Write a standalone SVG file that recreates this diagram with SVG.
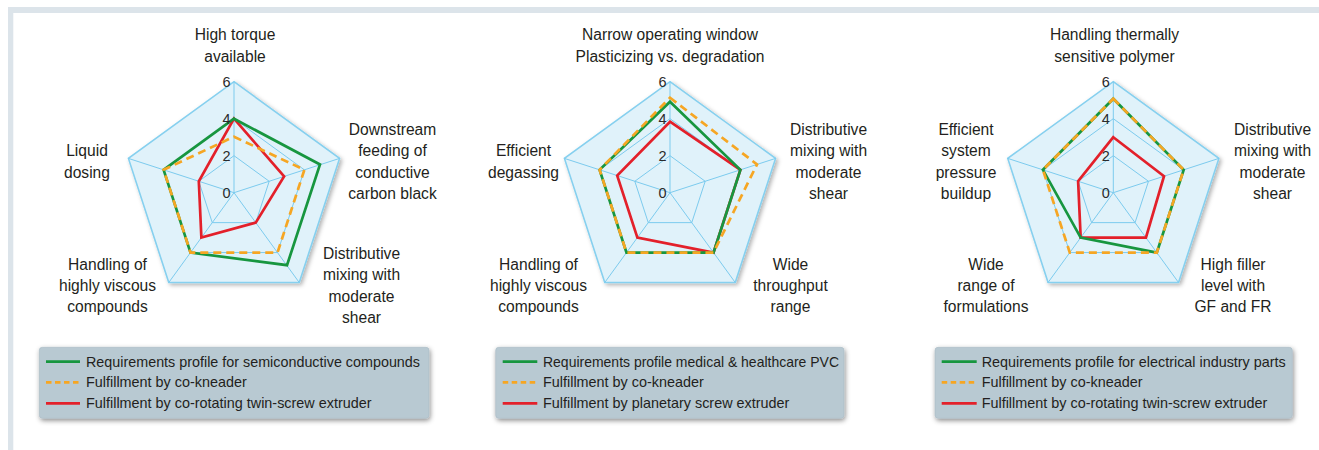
<svg xmlns="http://www.w3.org/2000/svg" width="1319" height="450" viewBox="0 0 1319 450">
<defs>
<style>
.bg{fill:#e0f2fa;stroke:#86d0ef;stroke-width:1.6;stroke-linejoin:miter}
.grid{fill:none;stroke:#7ccbee;stroke-width:1}
.g{fill:none;stroke:#17963f;stroke-width:2.7;stroke-linejoin:miter}
.o{fill:none;stroke:#f6a623;stroke-width:2.7;stroke-dasharray:8 5;stroke-linejoin:miter}
.r{fill:none;stroke:#e3202a;stroke-width:2.7;stroke-linejoin:miter}
.lbl{font-family:"Liberation Sans",Arial,sans-serif;font-size:15.6px;fill:#231f20;text-anchor:middle}
.num{font-family:"Liberation Sans",Arial,sans-serif;font-size:14.5px;fill:#2b2b2b;text-anchor:middle}
.leg{font-family:"Liberation Sans",Arial,sans-serif;font-size:14.4px;fill:#231f20}
.box{fill:#b8c9d2;stroke:#a9bac4;stroke-width:0.6}
</style>
<filter id="sh" x="-10%" y="-10%" width="125%" height="125%">
<feDropShadow dx="2" dy="2" stdDeviation="2" flood-color="#000" flood-opacity="0.3"/>
</filter>
<filter id="sh2" x="-10%" y="-20%" width="125%" height="150%">
<feDropShadow dx="1" dy="2" stdDeviation="2.5" flood-color="#000" flood-opacity="0.45"/>
</filter>
<g id="grid">
<polygon class="bg" points="0,-111 105.57,-34.3 65.24,89.8 -65.24,89.8 -105.57,-34.3" filter="url(#sh)"/>
<polygon class="grid" points="0,-74 70.38,-22.87 43.5,59.87 -43.5,59.87 -70.38,-22.87"/>
<polygon class="grid" points="0,-37 35.19,-11.43 21.75,29.93 -21.75,29.93 -35.19,-11.43"/>
<path class="grid" d="M0,0V-111M0,0L105.57,-34.3M0,0L65.24,89.8M0,0L-65.24,89.8M0,0L-105.57,-34.3"/>
</g>
<g id="nums">
<text class="num" x="-7.5" y="-106">6</text>
<text class="num" x="-7.5" y="-69">4</text>
<text class="num" x="-7.5" y="-32">2</text>
<text class="num" x="-7.5" y="5">0</text>
</g>
</defs>
<rect x="0" y="0" width="1319" height="450" fill="#ffffff"/>
<g id="frame">
<rect x="8" y="7" width="1311" height="6" fill="#dce4ea"/>
<rect x="8" y="7" width="5.3" height="443" fill="#dce4ea"/>
</g>

<g id="chart1">
<g transform="translate(234,192.7)">
<use href="#grid"/>
<g id="chart1-series">
<polygon class="r" points="0,-74 50.1,-16.3 21.75,29.93 -32.62,44.9 -35.19,-11.43"/>
<polygon class="g" points="0,-74 86,-28.2 53,72.5 -43.5,59.87 -70.38,-22.87"/>
<polygon class="o" points="0,-56 70.38,-22.87 43.5,59.87 -43.5,59.87 -70.38,-22.87"/>
</g>
<use href="#nums"/>
</g>
<text class="lbl" x="235" y="40">High torque</text>
<text class="lbl" x="235" y="61.5">available</text>
<text class="lbl" x="392.5" y="135">Downstream</text>
<text class="lbl" x="392.5" y="156">feeding of</text>
<text class="lbl" x="392.5" y="177.5">conductive</text>
<text class="lbl" x="392.5" y="199">carbon black</text>
<text class="lbl" x="361.5" y="259">Distributive</text>
<text class="lbl" x="361.5" y="280">mixing with</text>
<text class="lbl" x="361.5" y="301.5">moderate</text>
<text class="lbl" x="361.5" y="323">shear</text>
<text class="lbl" x="107.5" y="270">Handling of</text>
<text class="lbl" x="107.5" y="291">highly viscous</text>
<text class="lbl" x="107.5" y="312">compounds</text>
<text class="lbl" x="87" y="156">Liquid</text>
<text class="lbl" x="87" y="177.5">dosing</text>
</g>

<g id="chart2">
<g transform="translate(670,192.7)">
<use href="#grid"/>
<g id="chart2-series">
<polygon class="r" points="0,-71 70.38,-22.87 43.5,59.87 -32.62,44.9 -52.78,-17.15"/>
<polygon class="g" points="0,-91 70.38,-22.87 43.5,59.87 -43.5,59.87 -70.38,-22.87"/>
<polygon class="o" points="0,-95 87,-28.3 43.5,59.87 -43.5,59.87 -70.38,-22.87"/>
</g>
<use href="#nums"/>
</g>
<text class="lbl" x="670" y="40">Narrow operating window</text>
<text class="lbl" x="670" y="61.5">Plasticizing vs. degradation</text>
<text class="lbl" x="828.5" y="135">Distributive</text>
<text class="lbl" x="828.5" y="156">mixing with</text>
<text class="lbl" x="828.5" y="177.5">moderate</text>
<text class="lbl" x="828.5" y="199">shear</text>
<text class="lbl" x="790.5" y="270">Wide</text>
<text class="lbl" x="790.5" y="291">throughput</text>
<text class="lbl" x="790.5" y="312">range</text>
<text class="lbl" x="538.5" y="270">Handling of</text>
<text class="lbl" x="538.5" y="291">highly viscous</text>
<text class="lbl" x="538.5" y="312">compounds</text>
<text class="lbl" x="523.5" y="156">Efficient</text>
<text class="lbl" x="523.5" y="177.5">degassing</text>
</g>

<g id="chart3">
<g transform="translate(1113.3,192.7)">
<use href="#grid"/>
<g id="chart3-series">
<polygon class="r" points="0,-55.5 50.7,-16.5 32.62,44.9 -32.62,44.9 -35.19,-11.43"/>
<polygon class="g" points="0,-94 70.38,-22.87 43.5,59.87 -32.62,44.9 -70.38,-22.87"/>
<polygon class="o" points="0,-94 70.38,-22.87 43.5,59.87 -43.5,59.87 -70.38,-22.87"/>
</g>
<use href="#nums"/>
</g>
<text class="lbl" x="1114.5" y="40">Handling thermally</text>
<text class="lbl" x="1114.5" y="61.5">sensitive polymer</text>
<text class="lbl" x="1272.5" y="135">Distributive</text>
<text class="lbl" x="1272.5" y="156">mixing with</text>
<text class="lbl" x="1272.5" y="177.5">moderate</text>
<text class="lbl" x="1272.5" y="199">shear</text>
<text class="lbl" x="1233" y="270">High filler</text>
<text class="lbl" x="1233" y="291">level with</text>
<text class="lbl" x="1233" y="312">GF and FR</text>
<text class="lbl" x="986" y="270">Wide</text>
<text class="lbl" x="986" y="291">range of</text>
<text class="lbl" x="986" y="312">formulations</text>
<text class="lbl" x="966" y="135">Efficient</text>
<text class="lbl" x="966" y="156">system</text>
<text class="lbl" x="966" y="177.5">pressure</text>
<text class="lbl" x="966" y="199">buildup</text>
</g>

<g id="legend1">
<rect class="box" x="39.3" y="347.3" width="389.7" height="71" rx="3" filter="url(#sh2)"/>
<line x1="46" y1="361.7" x2="80" y2="361.7" class="g"/>
<line x1="46" y1="382.3" x2="80" y2="382.3" class="o" style="stroke-dasharray:5.5 3.5"/>
<line x1="46" y1="403.3" x2="80" y2="403.3" class="r"/>
<text class="leg" x="86" y="366.7" textLength="334" lengthAdjust="spacingAndGlyphs">Requirements profile for semiconductive compounds</text>
<text class="leg" x="86" y="387.3">Fulfillment by co-kneader</text>
<text class="leg" x="86" y="408.3">Fulfillment by co-rotating twin-screw extruder</text>
</g>

<g id="legend2">
<rect class="box" x="495.7" y="347.3" width="348.3" height="71" rx="3" filter="url(#sh2)"/>
<line x1="502.7" y1="361.7" x2="537.3" y2="361.7" class="g"/>
<line x1="502.7" y1="382.3" x2="537.3" y2="382.3" class="o" style="stroke-dasharray:5.5 3.5"/>
<line x1="502.7" y1="403.3" x2="537.3" y2="403.3" class="r"/>
<text class="leg" x="543" y="366.7" textLength="296" lengthAdjust="spacingAndGlyphs">Requirements profile medical &amp; healthcare PVC</text>
<text class="leg" x="543" y="387.3">Fulfillment by co-kneader</text>
<text class="leg" x="543" y="408.3">Fulfillment by planetary screw extruder</text>
</g>

<g id="legend3">
<rect class="box" x="935" y="347.3" width="357.3" height="71" rx="3" filter="url(#sh2)"/>
<line x1="941.7" y1="361.7" x2="976.7" y2="361.7" class="g"/>
<line x1="941.7" y1="382.3" x2="976.7" y2="382.3" class="o" style="stroke-dasharray:5.5 3.5"/>
<line x1="941.7" y1="403.3" x2="976.7" y2="403.3" class="r"/>
<text class="leg" x="981.7" y="366.7" textLength="304" lengthAdjust="spacingAndGlyphs">Requirements profile for electrical industry parts</text>
<text class="leg" x="981.7" y="387.3">Fulfillment by co-kneader</text>
<text class="leg" x="981.7" y="408.3">Fulfillment by co-rotating twin-screw extruder</text>
</g>
</svg>
